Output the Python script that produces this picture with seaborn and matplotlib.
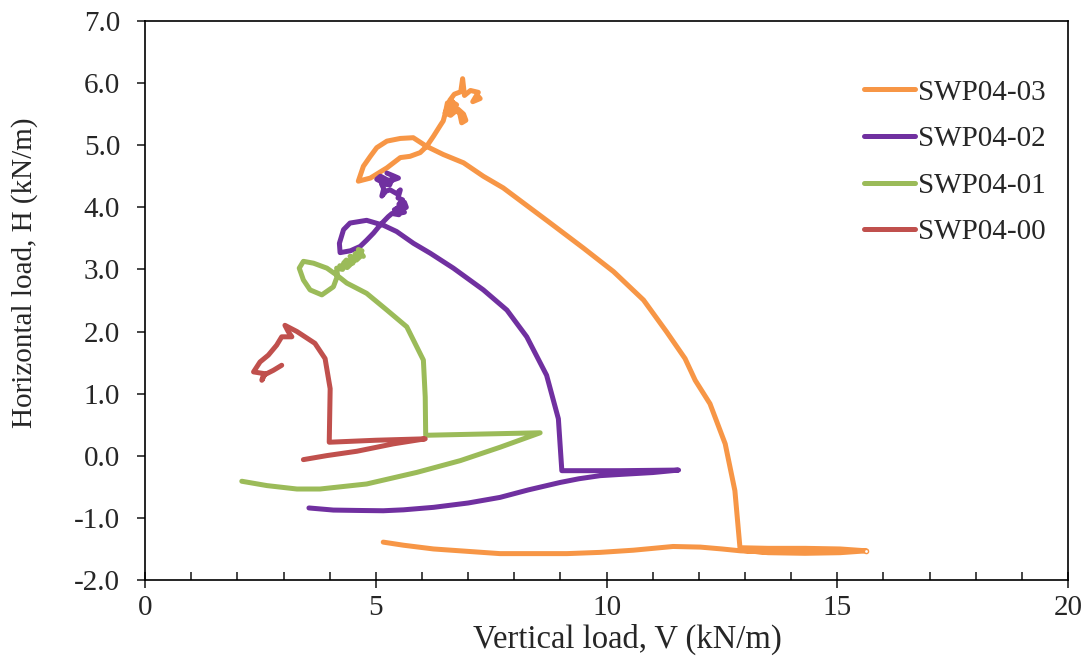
import numpy as np
import pandas as pd
import matplotlib
matplotlib.use("Agg")
import matplotlib.pyplot as plt
import seaborn as sns
from matplotlib.ticker import MultipleLocator, FormatStrFormatter

# ---- data ----
series_names = ["SWP04-03", "SWP04-02", "SWP04-01", "SWP04-00"]
colors = ["#F79646", "#7030A0", "#9BBB59", "#C0504D"]

V_03 = [7.20, 7.26, 7.10, 7.22, 7.05, 6.92, 6.88, 6.84, 6.70, 6.60, 6.75, 6.55, 6.50, 6.62,
        6.78, 6.90, 6.95, 6.86, 6.82, 6.70, 6.58, 6.66, 6.55, 6.50, 6.46,
        6.39, 6.25, 6.10, 5.96, 5.74, 5.53, 5.24, 4.88, 4.62, 4.73,
        4.88, 5.02, 5.24, 5.53, 5.81, 6.10, 6.46, 6.90, 7.33, 7.76, 8.78, 9.50, 10.15, 10.80,
        11.30, 11.70, 11.92, 12.24, 12.57, 12.78, 12.89, 13.50, 14.30, 15.06, 15.63, 15.06,
        14.30, 13.50, 12.90, 13.50, 14.30, 15.00, 14.30, 13.50, 12.90, 12.50, 12.03, 11.44,
        10.58, 9.86, 9.14, 7.69, 6.25, 5.60, 5.16]
H_03 = [5.80, 5.75, 5.70, 5.85, 5.88, 5.80, 6.07, 5.86, 5.82, 5.72, 5.65, 5.60, 5.52, 5.48,
        5.58, 5.50, 5.40, 5.36, 5.50, 5.62, 5.55, 5.70, 5.68, 5.50, 5.39,
        5.31, 5.145, 4.98, 4.88, 4.82, 4.80, 4.635, 4.47, 4.42, 4.66,
        4.82, 4.96, 5.065, 5.108, 5.12, 4.98, 4.85, 4.716, 4.499, 4.312, 3.746, 3.342, 2.965,
        2.507, 1.995, 1.565, 1.215, 0.838, 0.192, -0.562, -1.48, -1.49, -1.49, -1.50, -1.53,
        -1.56, -1.57, -1.56, -1.52, -1.52, -1.53, -1.53, -1.54, -1.55, -1.53, -1.50, -1.47,
        -1.46, -1.52, -1.555, -1.575, -1.575, -1.50, -1.44, -1.39]

V_02 = [5.24, 5.40, 5.49, 5.30, 5.10, 5.02, 5.15, 5.35, 5.30, 5.12, 5.17, 5.13, 5.22, 5.31,
        5.45, 5.53, 5.48, 5.58, 5.50, 5.62, 5.66, 5.55, 5.62, 5.48, 5.40, 5.55, 5.45, 5.50,
        5.35, 5.27,
        5.10, 4.95, 4.80, 4.66, 4.45, 4.225, 4.21, 4.30, 4.44, 4.80, 5.165, 5.45, 5.815, 6.18,
        6.68, 7.33, 7.84, 8.27, 8.70, 8.955, 9.03, 10.30, 11.56, 11.00, 10.30, 9.86, 9.40,
        8.99, 8.30, 7.69, 7.00, 6.25, 5.60, 5.16, 4.60, 4.08, 3.55]
H_02 = [4.55, 4.50, 4.47, 4.42, 4.50, 4.45, 4.40, 4.45, 4.36, 4.38, 4.30, 4.18, 4.26, 4.28,
        4.22, 4.28, 4.15, 4.12, 4.05, 4.08, 4.00, 3.95, 3.92, 3.90, 3.96, 4.02, 3.98, 3.88,
        3.90, 3.85,
        3.72, 3.585, 3.47, 3.37, 3.30, 3.27, 3.42, 3.64, 3.746, 3.79, 3.71, 3.61, 3.42, 3.26,
        3.02, 2.67, 2.345, 1.915, 1.296, 0.596, -0.24, -0.24, -0.23, -0.27, -0.30, -0.32, -0.37,
        -0.43, -0.55, -0.67, -0.76, -0.83, -0.87, -0.885, -0.88, -0.874, -0.84]

V_01 = [4.73, 4.62, 4.70, 4.55, 4.68, 4.58, 4.44, 4.55, 4.50, 4.36, 4.30, 4.45, 4.38, 4.22,
        4.28, 4.15,
        4.17, 4.08, 3.83, 3.575, 3.43, 3.34, 3.43, 3.65, 3.94, 4.15, 4.37, 4.80, 5.24, 5.67,
        6.03, 6.07, 6.08, 7.30, 8.56, 7.69, 6.83, 5.89, 4.80, 3.79, 3.29, 2.64, 2.095]
H_01 = [3.21, 3.32, 3.30, 3.25, 3.22, 3.15, 3.21, 3.18, 3.10, 3.15, 3.10, 3.08, 3.03, 3.06,
        3.00, 3.02,
        2.90, 2.72, 2.59, 2.67, 2.83, 3.02, 3.13, 3.10, 3.02, 2.91, 2.78, 2.615, 2.345, 2.076,
        1.54, 0.945, 0.33, 0.35, 0.37, 0.137, -0.078, -0.267, -0.454, -0.535, -0.535, -0.48,
        -0.41]

V_00 = [2.96, 2.78, 2.565, 2.53, 2.60, 2.35, 2.49, 2.67, 2.85, 2.96, 3.18, 3.10, 3.03, 3.29,
        3.68, 3.90, 4.01, 3.99, 5.00, 6.07, 5.38, 4.59, 3.94, 3.43]
H_00 = [1.457, 1.376, 1.295, 1.215, 1.32, 1.35, 1.51, 1.62, 1.78, 1.915, 1.915, 2.00, 2.10,
        2.00, 1.81, 1.565, 1.08, 0.218, 0.25, 0.273, 0.192, 0.073, 0.003, -0.062]

x_ticks = [0, 5, 10, 15, 20]
y_ticks = [-2.0, -1.0, 0.0, 1.0, 2.0, 3.0, 4.0, 5.0, 6.0, 7.0]

# ---- build long table ----
frames = []
for name, V, H in zip(series_names, [V_03, V_02, V_01, V_00], [H_03, H_02, H_01, H_00]):
    frames.append(pd.DataFrame({"V": V, "H": H, "series": name}))
df = pd.concat(frames, ignore_index=True)

sns.set_style("ticks")
plt.rcParams["font.family"] = ["Liberation Serif", "DejaVu Serif"]

fig = plt.figure(figsize=(10.91, 6.68), dpi=100)
ax = fig.add_axes([0.133, 0.1317, 0.846, 0.837])

sns.lineplot(data=df, x="V", y="H", hue="series", hue_order=series_names,
             palette=colors, sort=False, estimator=None, units="series",
             linewidth=3.6, ax=ax, legend=True)
ax.plot([15.63], [-1.53], marker="o", ms=3, mfc="white", mec=colors[0], mew=1, zorder=5)

ax.set_xlim(0, 20)
ax.set_ylim(-2, 7)
ax.set_xticks(x_ticks)
ax.set_yticks(y_ticks)
ax.xaxis.set_minor_locator(MultipleLocator(1))
ax.yaxis.set_major_formatter(FormatStrFormatter("%.1f"))
ax.tick_params(axis="x", which="major", direction="inout", length=12, width=1.2, labelsize=21, pad=5)
ax.tick_params(axis="x", which="minor", direction="in", length=6, width=1.2)
ax.tick_params(axis="y", which="major", direction="out", length=6, width=1.2, labelsize=21, pad=12)
for s in ax.spines.values():
    s.set_linewidth(1.2)
    s.set_color("black")

ax.set_xlabel("Vertical load, V (kN/m)", fontsize=23.5)
ax.set_ylabel("Horizontal load, H (kN/m)", fontsize=21)
ax.xaxis.set_label_coords(0.523, -0.079)
ax.yaxis.set_label_coords(-0.116, 0.55)

leg = ax.legend(loc="upper right", bbox_to_anchor=(0.995, 0.927), frameon=False,
                fontsize=21, handlelength=1.75, handletextpad=0.1, labelspacing=0.69,
                borderaxespad=0.2)
for line in leg.get_lines():
    line.set_linewidth(3.6)

fig.savefig("out.png", dpi=100)
